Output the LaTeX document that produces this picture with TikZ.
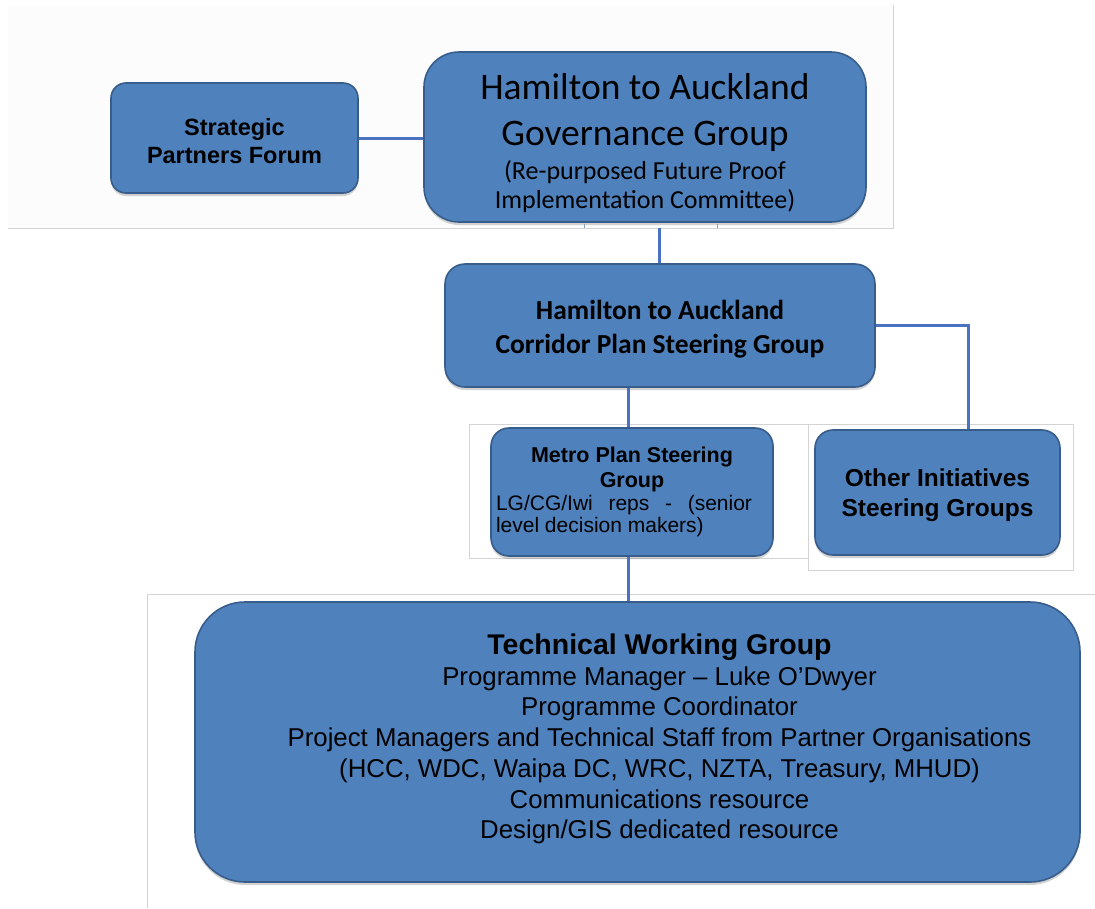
\documentclass[tikz,border=0pt]{standalone}
\usepackage{fontspec}
\setmainfont{Liberation Sans}
\newfontfamily\calibri{Carlito}
\usetikzlibrary{shadows}
\definecolor{boxfill}{HTML}{4F81BD}
\definecolor{boxedge}{HTML}{385D8A}
\definecolor{linkblue}{HTML}{4A72C0}
\definecolor{panelgray}{HTML}{D4D4D4}
\definecolor{panelfill}{HTML}{FCFCFC}
\newcommand{\fsz}[2]{\fontsize{#1}{#2}\selectfont}
\tikzset{
  orgbox/.style={draw=boxedge, line width=1.6pt, fill=boxfill, text=black,
    align=center, inner sep=0pt,
    drop shadow={shadow xshift=0pt, shadow yshift=-3pt, opacity=0.35}},
  link/.style={draw=linkblue, line width=3pt},
  panel/.style={draw=panelgray, line width=0.8pt},
}
\begin{document}
\begin{tikzpicture}[x=1pt,y=-1pt]
\useasboundingbox (0,0) rectangle (1095,908);
\fill[white] (0,0) rectangle (1095,908);

% pasted-in panel frames
\fill[panelfill] (8,5) rectangle (893,228);
\draw[panel] (8,228) -- (893,228) -- (893,5);
\coordinate (topedge) at (0,228);
\draw[panel] (469,424) rectangle (808,558);
\draw[panel] (808,424) rectangle (1073,570);
\draw[panel] (147,908) -- (147,594) -- (1095,594);

% governance level
\node[orgbox, rounded corners=15pt, minimum width=247pt, minimum height=110pt]
  (spf) at (234.5,138)
  {\begin{minipage}{240pt}\centering\bfseries\fsz{23.5}{28}%
   \vspace{6pt}Strategic\\Partners Forum\end{minipage}};
\node[orgbox, rounded corners=35pt, minimum width=442pt, minimum height=170pt]
  (gov) at (645,137)
  {\begin{minipage}{430pt}\centering\calibri
   \vspace{11.5pt}{\fsz{37.5}{46}Hamilton to Auckland\\Governance Group\par}
   \vspace{5pt}{\fsz{26}{29}(Re-purposed Future Proof\\Implementation Committee)\par}
   \end{minipage}};
\draw[boxedge!60!white, line width=0.8pt] (584,224) -- (584,228) (717,224) -- (717,228);

% steering level
\node[orgbox, rounded corners=20pt, minimum width=430pt, minimum height=123pt]
  (steer) at (660,325.5)
  {\begin{minipage}{420pt}\centering\calibri\bfseries\fsz{27.5}{34}%
   \vspace{8pt}Hamilton to Auckland\\Corridor Plan Steering Group\end{minipage}};
\node[orgbox, rounded corners=18pt, minimum width=282pt, minimum height=128pt]
  (metro) at (632,492)
  {\begin{minipage}{256pt}
   {\centering\bfseries\fsz{21.5}{25}Metro Plan Steering\\Group\par}
   \vspace{1pt}
   {\leftskip=-8pt\rightskip=8pt\fsz{21}{22}LG/CG/Iwi reps - (senior level decision makers)\par}
   \end{minipage}};
\node[orgbox, rounded corners=18pt, minimum width=245pt, minimum height=125pt]
  (other) at (937.5,492.5)
  {\begin{minipage}{235pt}\centering\bfseries\fsz{24.5}{30}%
   \vspace{6pt}Other Initiatives\\Steering Groups\end{minipage}};

% working level
\node[orgbox, rounded corners=50pt, minimum width=885pt, minimum height=280pt]
  (tech) at (637.5,742)
  {\begin{minipage}{860pt}\centering\leftskip=44pt plus 1fil\fsz{25.8}{30.7}
   {\bfseries\fsz{28.5}{30.7}Technical Working Group}\\
   Programme Manager -- Luke O'Dwyer\\
   Programme Coordinator\\
   Project Managers and Technical Staff from Partner Organisations\\
   (HCC, WDC, Waipa DC, WRC, NZTA, Treasury, MHUD)\\
   Communications resource\\
   Design/GIS dedicated resource\par
   \vspace{6pt}
   \end{minipage}};

% connectors
\draw[link] (spf.east) -- (gov.west |- spf.east);
\draw[link] ([xshift=-1pt]steer.north) -- ([xshift=-1pt]steer.north |- topedge);
\draw[link] ([xshift=-4pt]metro.north) -- ([xshift=-4pt]metro.north |- steer.south);
\draw[link] (steer.east) -| ([xshift=30.5pt]other.north);
\draw[link] ([xshift=-4pt]metro.south) -- ([xshift=-4pt]metro.south |- tech.north);
\end{tikzpicture}
\end{document}
